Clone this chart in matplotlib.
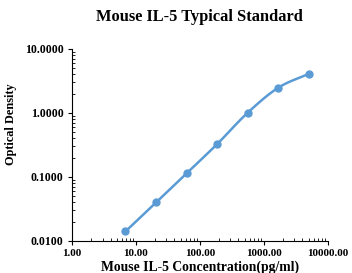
import matplotlib
matplotlib.use('Agg')
import matplotlib.pyplot as plt
import numpy as np
from matplotlib.ticker import FormatStrFormatter, LogLocator

plt.rcParams.update({
    'font.family': 'serif',
    'font.serif': ['Liberation Serif', 'DejaVu Serif'],
    'font.weight': 'bold',
})

C_LINE = '#5B9BD5'

# standard curve: concentration (pg/ml) vs OD
conc = [6.86, 20.6, 61.7, 185.2, 555.6, 1666.7, 5000.0]
od = [0.0140, 0.0397, 0.113, 0.324, 1.00, 2.46, 4.07]

x_ticks = [1, 10, 100, 1000, 10000]
y_ticks = [0.01, 0.1, 1, 10]


def smooth(xs, ys, n=20):
    # Catmull-Rom through the points in log-log space (like Excel's smoothed line)
    lx, ly = np.log10(xs), np.log10(ys)
    px = np.concatenate([[2*lx[0]-lx[1]], lx, [2*lx[-1]-lx[-2]]])
    py = np.concatenate([[2*ly[0]-ly[1]], ly, [2*ly[-1]-ly[-2]]])
    ox, oy = [], []
    t = np.linspace(0, 1, n)
    for i in range(1, len(px) - 2):
        for p, o in ((px, ox), (py, oy)):
            p0, p1, p2, p3 = p[i-1], p[i], p[i+1], p[i+2]
            o.extend(0.5*((2*p1) + (-p0+p2)*t + (2*p0-5*p1+4*p2-p3)*t**2
                          + (-p0+3*p1-3*p2+p3)*t**3))
    return 10**np.array(ox), 10**np.array(oy)


fig = plt.figure(figsize=(3.52, 2.73), dpi=100)
ax = fig.add_axes([0.2045, 0.118, 0.727, 0.703])

sx, sy = smooth(conc, od)
ax.plot(sx, sy, color=C_LINE, lw=1.8, zorder=2)
ax.plot(conc, od, 'o', color=C_LINE, markersize=5, zorder=3)

ax.set_xscale('log')
ax.set_yscale('log')
ax.set_xlim(1, 10000)
ax.set_ylim(0.01, 10)
ax.set_xticks(x_ticks)
ax.set_yticks(y_ticks)
ax.xaxis.set_major_formatter(FormatStrFormatter('%.2f'))
ax.yaxis.set_major_formatter(FormatStrFormatter('%.4f'))
ax.xaxis.set_minor_locator(LogLocator(base=10, subs=np.arange(2, 10)))
ax.yaxis.set_minor_locator(LogLocator(base=10, subs=np.arange(2, 10)))
ax.xaxis.set_minor_formatter(plt.NullFormatter())
ax.yaxis.set_minor_formatter(plt.NullFormatter())

for s in ('top', 'right'):
    ax.spines[s].set_visible(False)
for s in ('left', 'bottom'):
    ax.spines[s].set_linewidth(0.8)

ax.tick_params(which='major', direction='out', length=3, width=0.8, pad=3)
ax.tick_params(axis='x', which='major', labelsize=8)
ax.tick_params(axis='y', which='major', labelsize=8.6)
ax.tick_params(which='minor', direction='in', length=2.5, width=0.6)

fig.text(0.568, 0.938, 'Mouse IL-5 Typical Standard', fontsize=11.8,
         fontweight='bold', ha='center', va='center')
ax.set_xlabel('Mouse IL-5 Concentration(pg/ml)', fontsize=9.8, fontweight='bold', labelpad=2)
ax.set_ylabel('Optical Density', fontsize=8.8, fontweight='bold')
ax.yaxis.set_label_coords(-0.215, 0.609)

fig.savefig('out.png', dpi=100)
